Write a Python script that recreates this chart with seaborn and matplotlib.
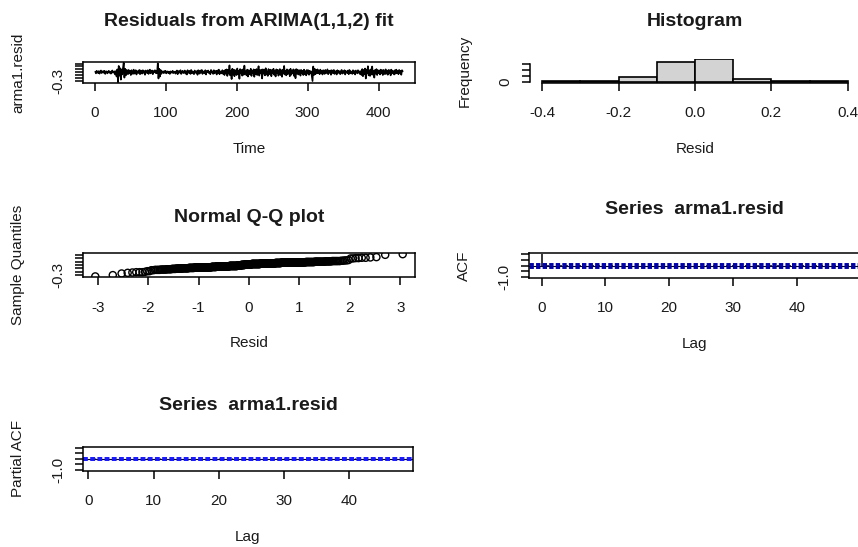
import matplotlib
matplotlib.use("Agg")
import matplotlib.pyplot as plt
import seaborn as sns
from statistics import NormalDist

# ---------------- data ----------------
resid = [
    # t 1-30
    0.02, -0.04, 0.05, 0.00, -0.03, 0.04, -0.05, 0.02, 0.06, -0.03, 0.01, 0.04, -0.02, 0.05, -0.06,
    0.02, 0.03, -0.04, 0.00, 0.05, -0.02, 0.02, -0.05, 0.03, 0.06, -0.02, 0.01, 0.03, -0.08, 0.04,
    # t 31-45
    -0.15, 0.10, -0.35, 0.22, -0.12, 0.14, -0.26, 0.10, -0.08, 0.15, 0.33, -0.19, 0.12, -0.11, 0.08,
    # t 46-86
    0.06, -0.07, 0.08, -0.03, 0.05, -0.10, 0.07, 0.01, -0.06, 0.09, -0.05, 0.03, 0.07, -0.08, 0.04,
    0.00, -0.03, 0.08, -0.07, 0.06, 0.03, -0.05, 0.07, -0.02, 0.04, -0.09, 0.06, 0.01, -0.03, 0.07,
    -0.06, 0.03, 0.09, -0.04, 0.02, 0.06, -0.07, 0.04, 0.00, 0.07, -0.03,
    # t 87-95
    0.05, -0.04, 0.31, -0.22, 0.12, -0.15, 0.08, -0.06, 0.03,
    # t 96-185
    0.02, -0.03, 0.04, -0.02, 0.05, -0.04, 0.00, 0.03, -0.03, 0.02,
    -0.06, 0.03, 0.01, -0.02, 0.05, -0.03, 0.00, 0.02, -0.05, 0.03,
    0.06, -0.07, 0.04, -0.02, 0.03, 0.07, -0.06, 0.01, 0.05, -0.03,
    0.00, 0.06, -0.05, 0.03, -0.08, 0.07, 0.01, -0.03, 0.05, -0.06,
    0.08, -0.04, 0.03, 0.00, -0.07, 0.06, 0.01, -0.03, 0.04, -0.09,
    0.07, 0.03, -0.05, 0.06, -0.01, 0.08, -0.06, 0.03, 0.01, -0.04,
    0.07, -0.08, 0.04, 0.00, 0.06, -0.03, 0.02, -0.07, 0.08, -0.01,
    0.03, -0.06, 0.07, -0.04, 0.02, 0.05, -0.08, 0.06, -0.03, 0.09,
    -0.07, 0.03, 0.00, -0.04, 0.07, -0.06, 0.04, -0.10, 0.08, -0.03,
    # t 186-300
    0.10, -0.13, 0.08, -0.05, 0.24, -0.11, 0.04, -0.24, 0.12, -0.08,
    0.09, -0.14, 0.07, 0.03, -0.10, 0.13, -0.07, 0.05, -0.23, 0.11,
    -0.04, 0.08, -0.12, 0.10, -0.09, 0.23, -0.05, 0.03, -0.11, 0.09,
    -0.15, 0.07, 0.04, -0.08, 0.12, -0.13, 0.05, -0.03, 0.10, -0.16,
    0.08, -0.07, 0.11, -0.10, 0.04, 0.21, -0.12, 0.07, -0.04, 0.09,
    -0.22, 0.10, -0.05, 0.08, -0.11, 0.14, -0.08, 0.03, -0.13, 0.11,
    -0.07, 0.05, 0.09, -0.14, 0.07, -0.04, 0.12, -0.09, 0.04, -0.15,
    0.10, -0.03, 0.08, -0.12, 0.05, 0.11, -0.10, 0.07, -0.16, 0.09,
    -0.05, 0.22, -0.08, 0.04, -0.11, 0.10, -0.07, 0.03, 0.08, -0.14,
    0.12, -0.09, 0.05, -0.04, 0.10, -0.13, 0.07, -0.21, 0.11, -0.05,
    0.09, -0.08, 0.04, 0.07, -0.12, 0.08, -0.03, 0.05, -0.10, 0.09,
    -0.07, 0.04, -0.11, 0.08, -0.05,
    # t 301-315
    0.07, -0.09, 0.05, -0.04, 0.03, -0.14, -0.31, 0.20, -0.10, 0.12, -0.07, 0.08, -0.04, 0.10, -0.03,
    # t 316-375
    0.06, -0.07, 0.09, -0.03, 0.04, -0.08, 0.07, 0.01, -0.06, 0.08,
    -0.04, 0.03, 0.10, -0.07, 0.04, -0.02, 0.06, -0.09, 0.07, 0.03,
    -0.04, 0.08, -0.06, 0.01, 0.04, -0.08, 0.07, -0.03, 0.05, 0.00,
    -0.07, 0.04, 0.08, -0.05, 0.03, -0.02, 0.07, -0.08, 0.04, 0.01,
    -0.03, 0.06, -0.07, 0.08, -0.04, 0.03, 0.00, -0.06, 0.07, -0.03,
    0.04, -0.08, 0.06, 0.01, -0.04, 0.07, -0.02, 0.03, -0.07, 0.04,
    # t 376-400
    -0.10, 0.11, -0.14, 0.08, -0.07, 0.13, -0.22, 0.09, -0.04, 0.21,
    -0.11, 0.07, -0.13, 0.10, -0.08, 0.20, -0.09, 0.05, -0.19, 0.08,
    -0.05, 0.11, -0.10, 0.07, -0.03,
    # t 401-434
    0.06, -0.08, 0.09, -0.04, 0.07, -0.10, 0.08, 0.01, -0.07, 0.10,
    -0.05, 0.04, -0.09, 0.08, -0.03, 0.07, -0.11, 0.09, -0.04, 0.05,
    0.03, -0.08, 0.07, -0.05, 0.09, -0.03, 0.04, -0.07, 0.08, -0.02,
    0.05, -0.09, 0.07, 0.03,
]
time_idx = list(range(1, len(resid) + 1))

hist_edges = [-0.4, -0.3, -0.2, -0.1, 0.0, 0.1, 0.2, 0.3, 0.4]
hist_counts = [2, 7, 40, 163, 186, 26, 8, 2]

acf_lags = list(range(0, 49))
acf_vals = [1.0, 0.03, -0.05, 0.02, 0.04, -0.06, 0.01, -0.03, 0.05, 0.02, -0.04, 0.03, -0.02,
            0.06, -0.01, 0.02, -0.07, 0.03, 0.01, -0.02, 0.04, -0.03, 0.05, -0.01, 0.02,
            -0.05, 0.03, 0.01, -0.04, 0.02, 0.06, -0.03, 0.01, -0.02, 0.04, -0.05, 0.02,
            0.03, -0.01, 0.05, -0.04, 0.02, -0.03, 0.01, 0.04, -0.02, 0.03, -0.06, 0.02]
pacf_lags = list(range(1, 49))
pacf_vals = [0.03, -0.05, 0.02, 0.04, -0.05, 0.01, -0.03, 0.04, 0.02, -0.04, 0.03, -0.02,
             0.05, -0.01, 0.02, -0.06, 0.03, 0.01, -0.02, 0.04, -0.03, 0.04, -0.01, 0.02,
             -0.05, 0.03, 0.01, -0.04, 0.02, 0.05, -0.03, 0.01, -0.02, 0.04, -0.04, 0.02,
             0.03, -0.01, 0.04, -0.04, 0.02, -0.03, 0.01, 0.04, -0.02, 0.03, -0.05, 0.02]
conf_bound = 0.094

# ---------------- style ----------------
sns.set_style("white")
plt.rcParams['font.family'] = ['Liberation Sans', 'DejaVu Sans']
plt.rcParams['axes.unicode_minus'] = False

W, H = 858, 547
fig = plt.figure(figsize=(W / 100, H / 100), dpi=100)

TICK_FS = 11
TITLE_FS = 14
TXT = '#1a1a1a'


def make_axes(l, r, t, b):
    return fig.add_axes([l / W, 1 - b / H, (r - l) / W, (b - t) / H])


def style_axes(ax, box_px, title, xlabel, ylabel, xticks, xlabels, yticks, ylabels,
               boxed=True, title_y=None):
    l, r, t, b = box_px
    w_px, h_px = r - l, b - t
    for s in ax.spines.values():
        s.set_color('black')
        s.set_linewidth(1.1)
        s.set_visible(boxed)
    ax.set_xticks(xticks)
    ax.set_xticklabels(xlabels)
    ax.set_yticks(yticks)
    ax.set_yticklabels(ylabels, rotation=90, va='center')
    ax.tick_params(axis='both', direction='out', length=5.8, width=1.1, color='black',
                   labelsize=TICK_FS, labelcolor=TXT, bottom=True, left=True)
    ax.tick_params(axis='x', pad=11)
    ax.tick_params(axis='y', pad=7)
    ax.set_xlabel(xlabel, fontsize=TICK_FS, color=TXT)
    ax.set_ylabel(ylabel, fontsize=TICK_FS, color=TXT)
    ax.xaxis.label.set_va('center')
    ax.yaxis.label.set_va('center')
    ax.xaxis.set_label_coords(0.5, -66 / h_px)
    ax.yaxis.set_label_coords(-65 / w_px, 0.5)
    ty = title_y if title_y is not None else t - 41
    fig.text((l + r) / 2 / W, 1 - ty / H, title, ha='center', va='center',
             fontsize=TITLE_FS, fontweight='bold', color=TXT)
    ax.grid(False)
    ax.set_facecolor('white')


# ---------- Panel 1: residual series ----------
box1 = (83, 415, 62, 83)
ax1 = make_axes(*box1)
sns.lineplot(x=time_idx, y=resid, ax=ax1, color='black', linewidth=1.2)
n = len(resid)
ax1.set_xlim(1 - 0.04 * (n - 1), n + 0.04 * (n - 1))
rmin, rmax = min(resid), max(resid)
ax1.set_ylim(rmin - 0.04 * (rmax - rmin), rmax + 0.04 * (rmax - rmin))
yt = [-0.3, -0.2, -0.1, 0.0, 0.1, 0.2, 0.3]
style_axes(ax1, box1, "Residuals from ARIMA(1,1,2) fit", "Time", "arma1.resid",
           [0, 100, 200, 300, 400], ["0", "100", "200", "300", "400"],
           yt, ["-0.3"] + [""] * (len(yt) - 1), title_y=21)

# ---------- Panel 2: histogram ----------
box2 = (530, 860, 58.5, 82.6)
ax2 = make_axes(*box2)
centers = [(a + b) / 2 for a, b in zip(hist_edges[:-1], hist_edges[1:])]
sns.histplot(x=centers, weights=hist_counts, bins=hist_edges, ax=ax2,
             color='#d3d3d3', edgecolor='black', linewidth=1.2, alpha=1.0)
ax2.set_xlim(-0.432, 0.432)
M = max(hist_counts)
ax2.set_ylim(-0.04 * M, 1.04 * M)
style_axes(ax2, box2, "Histogram", "Resid", "Frequency",
           [-0.4, -0.2, 0.0, 0.2, 0.4], ["-0.4", "-0.2", "0.0", "0.2", "0.4"],
           [0, 50, 100, 150], ["0", "", "", ""], boxed=False, title_y=22)
ax2.spines['left'].set_visible(True)
ax2.spines['bottom'].set_visible(True)
ax2.spines['left'].set_bounds(0, 150)
ax2.spines['bottom'].set_bounds(-0.4, 0.4)

# ---------- Panel 3: Normal Q-Q ----------
box3 = (83, 415, 253.3, 277.3)
ax3 = make_axes(*box3)
nd = NormalDist()
sorted_resid = sorted(resid)
theo = [nd.inv_cdf((i - 0.5) / n) for i in range(1, n + 1)]
sns.scatterplot(x=theo, y=sorted_resid, ax=ax3, marker='o', s=26,
                facecolors='none', edgecolors='black', linewidth=1.0)
tmin, tmax = min(theo), max(theo)
ax3.set_xlim(tmin - 0.04 * (tmax - tmin), tmax + 0.04 * (tmax - tmin))
ax3.set_ylim(rmin - 0.04 * (rmax - rmin), rmax + 0.04 * (rmax - rmin))
style_axes(ax3, box3, "Normal Q-Q plot", "Resid", "Sample Quantiles",
           [-3, -2, -1, 0, 1, 2, 3], ["-3", "-2", "-1", "0", "1", "2", "3"],
           yt, ["-0.3"] + [""] * (len(yt) - 1), title_y=217)

# ---------- Panel 4: ACF ----------
box4 = (529.3, 860, 253.3, 277.7)
ax4 = make_axes(*box4)
ax4.vlines(acf_lags, 0, acf_vals, color='black', linewidth=1.1)
ax4.axhline(0, color='black', linewidth=0.8)
for cb in (conf_bound, -conf_bound):
    ax4.axhline(cb, color='#0000a8', linewidth=2.1, linestyle=(0, (1.5, 0.75)))
L = max(acf_lags)
ax4.set_xlim(-0.04 * L, L * 1.04)
ax4.set_ylim(-1.08, 1.08)
style_axes(ax4, box4, "Series  arma1.resid", "Lag", "ACF",
           [0, 10, 20, 30, 40], ["0", "10", "20", "30", "40"],
           [-1, -0.5, 0, 0.5, 1], ["-1.0", "", "", "", ""], title_y=210)

# ---------- Panel 5: PACF ----------
box5 = (82.7, 413.3, 446.7, 470.7)
ax5 = make_axes(*box5)
ax5.vlines(pacf_lags, 0, pacf_vals, color='black', linewidth=1.0)
ax5.axhline(0, color='black', linewidth=0.8)
for cb in (conf_bound, -conf_bound):
    ax5.axhline(cb, color='#1515ff', linewidth=1.4, linestyle=(0, (2.5, 1.2)))
p0, p1 = min(pacf_lags), max(pacf_lags)
ax5.set_xlim(p0 - 0.04 * (p1 - p0), p1 + 0.04 * (p1 - p0))
ax5.set_ylim(-1.08, 1.08)
style_axes(ax5, box5, "Series  arma1.resid", "Lag", "Partial ACF",
           [0, 10, 20, 30, 40], ["0", "10", "20", "30", "40"],
           [-1, -0.5, 0, 0.5, 1], ["-1.0", "", "", "", ""], title_y=405)

fig.savefig("out.png", dpi=100, facecolor='white')
